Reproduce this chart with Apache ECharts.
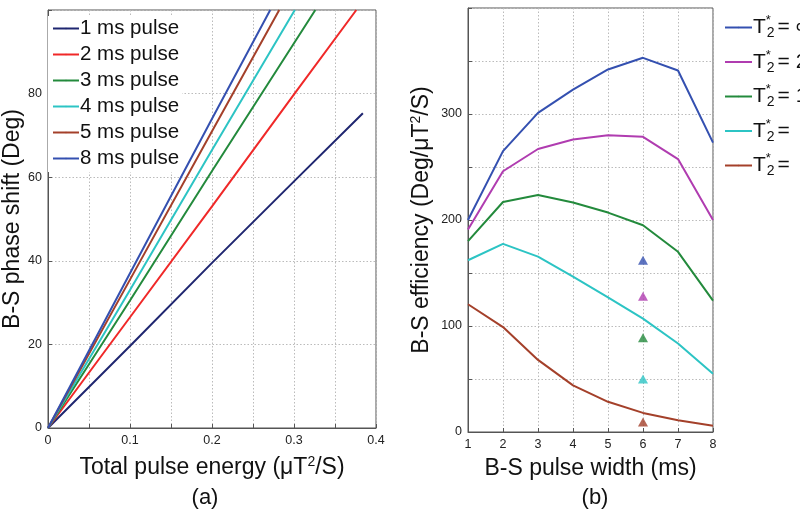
<!DOCTYPE html>
<html><head><meta charset="utf-8">
<script src="https://cdn.jsdelivr.net/npm/echarts@6/dist/echarts.min.js"></script>
<style>html,body{margin:0;padding:0;background:#fff}#c{width:800px;height:510px}</style>
</head><body><div id="c"></div>
<script>
// Panel (a): phase shift vs energy
const pulseNames = ['1 ms pulse','2 ms pulse','3 ms pulse','4 ms pulse','5 ms pulse','8 ms pulse'];
const pulseColors = ['#1f2670','#f02828','#238a3c','#2cc4c4','#a4402a','#3450b0'];
const energy1 = [0, 0.1, 0.2, 0.3, 0.384];
const phase1  = [0, 19.6, 39.5, 59, 75.3];
const energy2 = [0, 0.1, 0.2, 0.3, 0.376];
const phase2  = [0, 26.5, 53, 79.8, 100];
const energy3 = [0, 0.1, 0.2, 0.326];
const phase3  = [0, 30.5, 61.5, 100];
const energy4 = [0, 0.1, 0.2, 0.301];
const phase4  = [0, 33, 66.5, 100];
const energy5 = [0, 0.1, 0.2, 0.282];
const phase5  = [0, 35.5, 71, 100];
const energy8 = [0, 0.1, 0.2, 0.271];
const phase8  = [0, 37, 74, 100];

// Panel (b): efficiency vs pulse width
const widths = [1,2,3,4,5,6,7,8];
const t2Names = ['T2inf','T2a','T2b','T2c','T2d'];
const t2Labels = ['∞','20 ms','10 ms','  5 ms','  2 ms'];
const t2Colors = ['#3450b0','#b03cb0','#238a3c','#2cc4c4','#a4402a'];
const effInf = [200, 265, 301, 323, 342, 353, 341, 273];
const eff20  = [191, 246, 267, 276, 280, 278.5, 257.5, 200];
const eff10  = [180, 217, 223.5, 216.5, 207, 195, 170, 124];
const eff5   = [162, 177.5, 165.5, 146.5, 127, 107, 83.5, 55];
const eff2   = [120.5, 99, 68, 44, 28.5, 18, 11, 6];
const triX = 6;
const triY = [162, 128, 89, 50, 9.5];

const chart = echarts.init(document.getElementById('c'));
const zip = (xs, ys) => xs.map((x,i)=>[x, ys[i]]);
const aData = [[energy1,phase1],[energy2,phase2],[energy3,phase3],[energy4,phase4],[energy5,phase5],[energy8,phase8]];
const bData = [effInf, eff20, eff10, eff5, eff2];
const FF = 'Liberation Sans, Arial';

const axisCommon = {
  axisLine:{show:true, onZero:false, lineStyle:{color:'#555', width:1}},
  axisTick:{show:true, inside:true, length:4, lineStyle:{color:'#555'}},
  axisLabel:{color:'#222', fontSize:12.5, fontFamily:FF, margin:6},
  splitLine:{show:true, lineStyle:{color:'#bbb', type:[1.5,2], width:1}},
};

const series = [];
aData.forEach((d,i)=>{
  series.push({name:pulseNames[i], type:'line', xAxisIndex:0, yAxisIndex:0,
    data: zip(d[0], d[1]), symbol:'none', lineStyle:{width:2, color:pulseColors[i]},
    itemStyle:{color:pulseColors[i]}, clip:true, z: 3});
});
bData.forEach((d,i)=>{
  series.push({name:t2Names[i], type:'line', xAxisIndex:1, yAxisIndex:1,
    data: zip(widths, d), symbol:'none', lineStyle:{width:2, color:t2Colors[i]},
    itemStyle:{color:t2Colors[i]}, z: 3});
});
series.push({name:'tri', type:'scatter', xAxisIndex:1, yAxisIndex:1,
  data: triY.map((y,i)=>({value:[triX,y], itemStyle:{color:t2Colors[i]}})),
  symbol:'triangle', symbolSize:[10,9], z:4});

const titleStyle = {fontSize:23, color:'#111', fontFamily:FF, fontWeight:'normal', rich:{sup:{fontSize:14, padding:[0,0,11,0], color:'#111', fontFamily:FF}}};

chart.setOption({
  animation:false,
  backgroundColor:'#fff',
  title:[
    {text:'(a)', left:200, top:482, textAlign:'center', textStyle:{fontSize:22, fontWeight:'normal', color:'#111', fontFamily:FF}},
    {text:'(b)', left:590, top:482, textAlign:'center', textStyle:{fontSize:22, fontWeight:'normal', color:'#111', fontFamily:FF}}
  ],
  grid:[
    {left:47, top:10, width:329, height:418, show:true, borderColor:'#555', borderWidth:1, backgroundColor:'transparent'},
    {left:468, top:8, width:245, height:424, show:true, borderColor:'#555', borderWidth:1, backgroundColor:'transparent'}
  ],
  legend:[
    {data:pulseNames, orient:'vertical', left:48, top:16, itemWidth:26, itemHeight:2, itemGap:5,
     backgroundColor:'#fff', padding:[2,3,3,4],
     textStyle:{fontSize:20.5, color:'#111', fontFamily:FF, padding:[0,0,0,-4]}},
    {data:t2Names, orient:'vertical', left:719, top:9, itemWidth:27, itemHeight:2, itemGap:8,
     formatter: n => { const i=t2Names.indexOf(n); return '{t|T}{s|*}{b|2}{e|= '+t2Labels[i]+'}'; },
     textStyle:{color:'#111', fontFamily:FF, padding:[0,0,0,-4],
       rich:{
         t:{fontSize:21, fontFamily:FF, color:'#111'},
         s:{fontSize:13, fontFamily:FF, color:'#111', width:1, padding:[0,0,14,0]},
         b:{fontSize:14, fontFamily:FF, color:'#111', padding:[12,0,0,0]},
         e:{fontSize:21, fontFamily:FF, color:'#111', padding:[0,0,0,3]}
       }}}
  ],
  xAxis:[
    Object.assign({}, axisCommon, {gridIndex:0, type:'value', min:0, max:0.4, interval:0.05,
      position:'bottom',
      axisLabel:Object.assign({}, axisCommon.axisLabel, {formatter: v => (Math.round(v*100)%10===0 ? String(Math.round(v*10)/10) : '')}),
      name:'Total pulse energy (μT{sup|2}/S)', nameLocation:'middle', nameGap:27,
      nameTextStyle:titleStyle}),
    Object.assign({}, axisCommon, {gridIndex:1, type:'value', min:1, max:8, interval:1,
      position:'bottom',
      name:'B-S pulse width (ms)', nameLocation:'middle', nameGap:25,
      nameTextStyle:titleStyle})
  ],
  yAxis:[
    Object.assign({}, axisCommon, {gridIndex:0, type:'value', min:0, max:100, interval:20,
      axisLabel:Object.assign({}, axisCommon.axisLabel, {formatter: v => v===100 ? '' : String(v)}),
      name:'B-S phase shift (Deg)', nameLocation:'middle', nameGap:24,
      nameTextStyle:titleStyle}),
    Object.assign({}, axisCommon, {gridIndex:1, type:'value', min:0, max:400, interval:50,
      axisLabel:Object.assign({}, axisCommon.axisLabel, {formatter: v => (v%100===0 && v!==400) ? String(v) : ''}),
      name:'B-S efficiency (Deg/μT{sup|2}/S)', nameLocation:'middle', nameGap:34,
      nameTextStyle:titleStyle})
  ],
  series: series
});
</script></body></html>
